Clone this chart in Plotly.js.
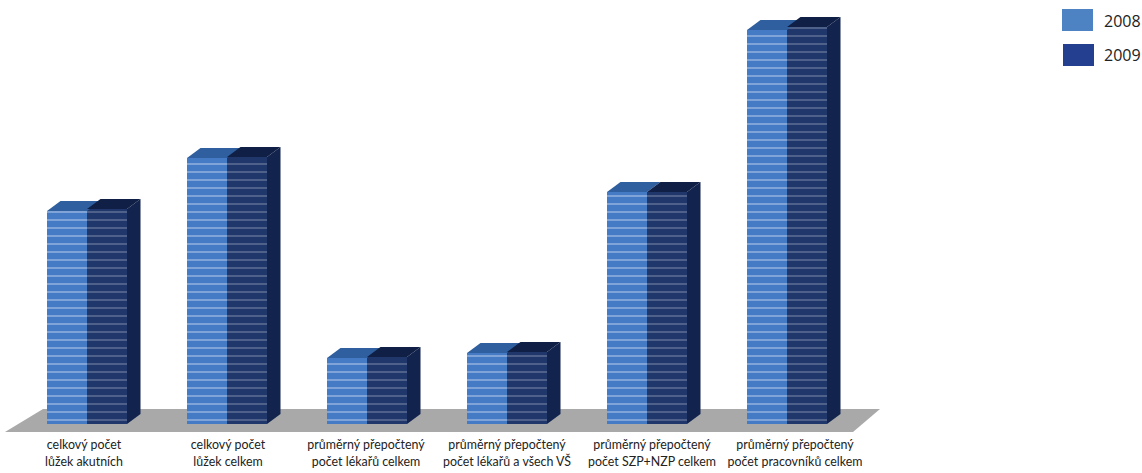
<!DOCTYPE html>
<html><head><meta charset="utf-8">
<script src="https://cdn.plot.ly/plotly-3.0.1.min.js"></script>
<style>html,body{margin:0;padding:0;background:#fff}#c{width:1142px;height:473px}</style></head>
<body><div id="c"></div>
<script>
const categories = [
  "celkový počet<br>lůžek akutních",
  "celkový počet<br>lůžek celkem",
  "průměrný přepočtený<br>počet lékařů celkem",
  "průměrný přepočtený<br>počet lékařů a všech VŠ",
  "průměrný přepočtený<br>počet SZP+NZP celkem",
  "průměrný přepočtený<br>počet pracovníků celkem"
];
const series2008 = [213, 266, 66, 71, 232, 394];
const series2009 = [215, 267, 67, 72, 232, 397];
const seriesNames = ["2008", "2009"];

const W = 1142, H = 473, PB = 40;
const STEP = 140;
const X0 = 87;
const BW = 40 / STEP;
const DX = 13.5 / STEP, DY = 10;
const idx = [0, 1, 2, 3, 4, 5];
const xr = [-X0 / STEP, (W - X0) / STEP];
const labelShift = [-3, 1, -1, 0, 5, 8];
const px = p => (p - X0) / STEP;

function poly(xs, ys, color) {
  return {type: 'scatter', mode: 'lines', x: xs, y: ys, fill: 'toself', fillcolor: color,
          line: {width: 0, color: color}, hoverinfo: 'skip', showlegend: false, cliponaxis: false};
}
const traces = [];
idx.forEach(i => {
  const a = series2008[i], b = series2009[i], lo = Math.min(a, b);
  const l = i - BW, m = i, r = i + BW;
  traces.push(poly([l, l + DX, m + DX, m + DX, m, l], [a, a + DY, a + DY, lo + DY, lo, a], '#2f5f9f'));
  traces.push(poly([m, m + DX, r + DX, r, m], [b, b + DY, b + DY, b, b], '#101f45'));
  traces.push(poly([r, r + DX, r + DX, r, r], [0, DY, b + DY, b, 0], '#12234d'));
});
traces.push({type: 'bar', name: seriesNames[0], x: idx, y: series2008, offset: -BW, width: BW,
  marker: {color: '#457ac4', line: {width: 0},
    pattern: {shape: '-', size: 8, solidity: 0.12, fgcolor: '#d5e2f4', fgopacity: 0.85, bgcolor: '#457ac4'}}});
traces.push({type: 'bar', name: seriesNames[1], x: idx, y: series2009, offset: 0, width: BW,
  marker: {color: '#20376b', line: {width: 0},
    pattern: {shape: '-', size: 8, solidity: 0.1, fgcolor: '#aab3c6', fgopacity: 0.85, bgcolor: '#20376b'}}});

const layout = {
  width: W, height: H, autosize: false,
  margin: {l: 0, r: 0, t: 0, b: PB, pad: 0},
  paper_bgcolor: '#fff', plot_bgcolor: '#fff', showlegend: false, barmode: 'overlay',
  font: {family: 'Lato,"Open Sans",sans-serif', size: 12.4, color: '#222'},
  xaxis: {range: xr, showgrid: false, zeroline: false, showline: false, ticks: '',
          tickmode: 'array', tickvals: idx.map(i => i + labelShift[i] / STEP), ticktext: categories,
          ticklabelstandoff: 3,
          tickangle: 0, tickfont: {family: 'Lato,"Open Sans",sans-serif', size: 12.4, color: '#222'}, fixedrange: true},
  yaxis: {range: [-9, 424], visible: false, showgrid: false, zeroline: false, fixedrange: true},
  shapes: [
    {type: 'path', layer: 'below', xref: 'x', yref: 'y', line: {width: 0}, fillcolor: '#a9a9a9',
     path: `M ${px(5)} -8 L ${px(43)} 15 L ${px(880)} 15 L ${px(853)} -8 Z`},
    {type: 'rect', xref: 'paper', yref: 'paper', x0: 1062 / W, x1: 1093 / W, y0: 1 - 31 / (H - PB), y1: 1 - 9 / (H - PB),
     fillcolor: '#4d82c3', line: {width: 0}},
    {type: 'rect', xref: 'paper', yref: 'paper', x0: 1063 / W, x1: 1094 / W, y0: 1 - 66 / (H - PB), y1: 1 - 44 / (H - PB),
     fillcolor: '#243f8f', line: {width: 0}}
  ],
  annotations: [
    {xref: 'paper', yref: 'paper', x: 1102 / W, y: 1 - 21 / (H - PB), text: seriesNames[0], showarrow: false,
     xanchor: 'left', yanchor: 'middle', font: {family: '"Open Sans",sans-serif', size: 16, color: '#222'}},
    {xref: 'paper', yref: 'paper', x: 1102 / W, y: 1 - 55 / (H - PB), text: seriesNames[1], showarrow: false,
     xanchor: 'left', yanchor: 'middle', font: {family: '"Open Sans",sans-serif', size: 16, color: '#222'}}
  ]
};
Plotly.newPlot('c', traces, layout, {displayModeBar: false, staticPlot: true});
</script></body></html>
